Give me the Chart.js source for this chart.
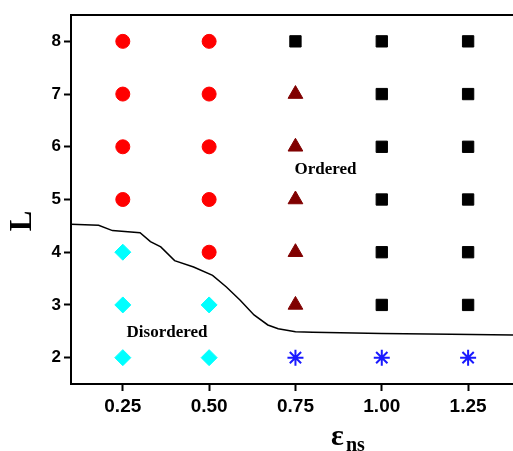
<!DOCTYPE html>
<html>
<head>
<meta charset="utf-8">
<script src="https://cdn.jsdelivr.net/npm/chart.js@4/dist/chart.umd.min.js"></script>
<style>
	html, body { margin: 0; padding: 0; background: #fff; overflow: hidden; }
	canvas { display: block; }
</style>
</head>
<body>
<canvas id="chart" width="513" height="451"></canvas>
<script>
// axis ticks
const xTicks = [0.25, 0.50, 0.75, 1.00, 1.25];
const yTicks = [2, 3, 4, 5, 6, 7, 8];

// phase points
const circleX = [0.25, 0.25, 0.25, 0.25, 0.50, 0.50, 0.50, 0.50, 0.50];
const circleY = [5, 6, 7, 8, 4, 5, 6, 7, 8];

const diamondX = [0.25, 0.25, 0.25, 0.50, 0.50];
const diamondY = [2, 3, 4, 2, 3];

const triangleX = [0.75, 0.75, 0.75, 0.75, 0.75];
const triangleY = [3, 4, 5, 6, 7];

const squareX = [0.75, 1.00, 1.00, 1.00, 1.00, 1.00, 1.00, 1.25, 1.25, 1.25, 1.25, 1.25, 1.25];
const squareY = [8, 3, 4, 5, 6, 7, 8, 3, 4, 5, 6, 7, 8];

const starX = [0.75, 1.00, 1.25];
const starY = [2, 2, 2];

// phase boundary
const boundaryX = [0.10, 0.18, 0.22, 0.30, 0.33, 0.36, 0.40, 0.455, 0.51, 0.55, 0.59, 0.63, 0.67, 0.70, 0.75, 0.80, 1.00, 1.20, 1.38];
const boundaryY = [4.53, 4.51, 4.41, 4.37, 4.20, 4.10, 3.84, 3.72, 3.56, 3.34, 3.09, 2.81, 2.62, 2.55, 2.49, 2.48, 2.46, 2.445, 2.43];

// region labels
const regionNames = ['Ordered', 'Disordered'];
const regionX = [0.837, 0.378];
const regionY = [5.57, 2.48];

function pairs(xs, ys) {
	return xs.map((x, i) => { return {'x': x, 'y': ys[i]} });
}

function markers(xs, ys, style, color, radius) {
	return {
		data: pairs(xs, ys),
		pointStyle: style,
		pointRadius: radius,
		pointBackgroundColor: color,
		pointBorderColor: color,
		pointBorderWidth: style == 'star' ? 2 : 1,
		showLine: false
	};
}

let textPlugin = {
	id: 'texts',
	afterDraw(chart) {
		let ctx = chart.ctx;
		let area = chart.chartArea;
		let sx = chart.scales.x, sy = chart.scales.y;
		ctx.save();

		// top frame line
		ctx.strokeStyle = '#000';
		ctx.lineWidth = 2;
		ctx.beginPath();
		ctx.moveTo(area.left - 1, area.top);
		ctx.lineTo(area.right, area.top);
		ctx.stroke();

		ctx.fillStyle = '#000';
		ctx.textAlign = 'center';
		ctx.textBaseline = 'middle';
		ctx.font = 'bold 17px "Liberation Serif"';
		for (let i = 0; i < regionNames.length; i++) {
			ctx.fillText(regionNames[i], sx.getPixelForValue(regionX[i]), sy.getPixelForValue(regionY[i]));
		}

		// y title
		ctx.save();
		ctx.translate(23, 221);
		ctx.rotate(-Math.PI / 2);
		ctx.font = 'bold 31px "Liberation Serif"';
		ctx.fillText('L', 0, 0);
		ctx.restore();

		// x title with subscript
		ctx.textAlign = 'left';
		ctx.textBaseline = 'alphabetic';
		ctx.font = 'bold 30px "Liberation Serif"';
		ctx.fillText('ε', 331, 445);
		ctx.font = 'bold 20px "Liberation Serif"';
		ctx.fillText('ns', 346, 451);
		ctx.restore();
	}
};

new Chart(document.querySelector('#chart'), {
	type: 'scatter',
	data: {
		datasets: [
			{
				data: pairs(boundaryX, boundaryY),
				showLine: true,
				borderColor: '#000',
				borderWidth: 1.5,
				pointRadius: 0,
				tension: 0
			},
			markers(circleX, circleY, 'circle', '#ff0000', 7),
			markers(diamondX, diamondY, 'rectRot', '#00ffff', 8),
			markers(triangleX, triangleY, 'triangle', '#800000', 8.5),
			markers(squareX, squareY, 'rect', '#000000', 8),
			markers(starX, starY, 'star', '#1a1aff', 8)
		]
	},
	options: {
		responsive: false,
		animation: false,
		devicePixelRatio: 1,
		layout: { autoPadding: false, padding: { top: 15, left: 0, right: 0, bottom: 0 } },
		plugins: {
			legend: { display: false },
			tooltip: { enabled: false }
		},
		scales: {
			x: {
				type: 'linear',
				min: 0.1,
				max: 1.38,
				afterFit: (s) => { s.height = 67; s.paddingLeft = 0; s.paddingRight = 0; },
				afterBuildTicks: (s) => { s.ticks = xTicks.map(v => { return {value: v} }); },
				grid: { display: true, drawOnChartArea: false, drawTicks: true, tickLength: 7, tickWidth: 2, tickColor: '#000' },
				border: { display: true, width: 2, color: '#000' },
				ticks: {
					padding: 4,
					color: '#000',
					font: { family: '"Liberation Sans"', size: 19, weight: 'bold' },
					callback: (v) => v.toFixed(2)
				}
			},
			y: {
				type: 'linear',
				min: 1.5,
				max: 8.5,
				afterFit: (s) => { s.width = 71; },
				afterBuildTicks: (s) => { s.ticks = yTicks.map(v => { return {value: v} }); },
				grid: { display: true, drawOnChartArea: false, drawTicks: true, tickLength: 7, tickWidth: 2, tickColor: '#000' },
				border: { display: true, width: 2, color: '#000' },
				ticks: {
					padding: 3,
					color: '#000',
					font: { family: '"Liberation Sans"', size: 17, weight: 'bold' },
					callback: (v) => v
				}
			}
		}
	},
	plugins: [textPlugin]
});
</script>
</body>
</html>
